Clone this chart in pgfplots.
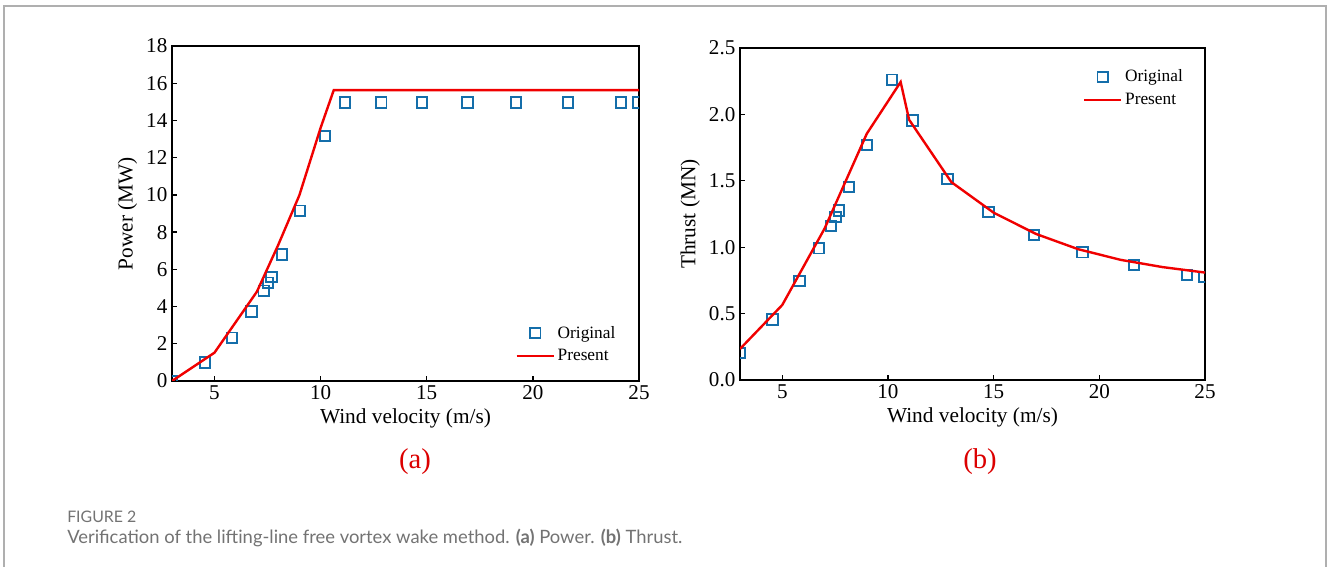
\documentclass[border=0pt]{standalone}
\usepackage{pgfplots}
\pgfplotsset{compat=1.18}
\usepackage{fontspec}
\setmainfont{Liberation Serif}
\newfontfamily\capfont{Lato}
\definecolor{mblue}{RGB}{20,110,170}
\definecolor{pred}{RGB}{240,0,0}
\definecolor{capred}{RGB}{220,0,0}
\definecolor{capgray}{RGB}{115,115,115}
\definecolor{framegray}{RGB}{175,175,175}

\pgfplotsset{
  myaxis/.style={
    scale only axis,
    xmin=3, xmax=25,
    xtick={5,10,15,20,25},
    tick align=inside,
    xtick pos=bottom, ytick pos=left,
    major tick length=4bp,
    clip marker paths=true,
    axis line style={line width=1.1bp},
    every tick/.style={black, line width=1bp},
    tick label style={font=\fontsize{15.8bp}{18bp}\selectfont},
    label style={font=\fontsize{16bp}{19bp}\selectfont},
    /pgf/number format/assume math mode=true,
    legend style={draw=none, fill=none, inner sep=0pt,
      font=\fontsize{13bp}{15bp}\selectfont,
      nodes={inner sep=2bp},
      row sep=3bp},
    legend cell align=left,
    legend image code/.code={\draw[mark repeat=2,mark phase=2,##1] plot coordinates {(0bp,0bp)(13.9bp,0bp)(27.8bp,0bp)};},
  },
  origstyle/.style={only marks, mark=square, mark size=3.9bp, color=mblue, mark options={line width=1.4bp, fill=none}},
  presstyle/.style={no marks, color=pred, line width=1.8bp},
}

\begin{document}
\begin{tikzpicture}
\useasboundingbox (0,0) rectangle (996bp,425.25bp);
\fill[white] (0,0) rectangle (996bp,425.25bp);
\draw[framegray, line width=1.5bp] (3.2bp,0) -- (3.2bp,420.5bp) -- (994.8bp,420.5bp) -- (994.8bp,0);

% (a) Power
\begin{axis}[myaxis,
  at={(129bp,139.5bp)}, anchor=south west,
  width=350.25bp, height=251.25bp,
  ymin=0, ymax=18, ytick={0,2,...,18},
  xlabel={Wind velocity (m/s)}, ylabel={Power (MW)},
  legend style={at={(0.735,0.173)}, anchor=north west},
]
\addplot[origstyle] coordinates {
(3,0) (4.56,1.0) (5.82,2.33) (6.74,3.73) (7.32,4.85) (7.53,5.28) (7.69,5.6)
(8.19,6.8) (9.03,9.15) (10.2,13.17) (11.16,14.97) (12.86,14.97) (14.77,14.97)
(16.92,14.97) (19.2,14.97) (21.66,14.97) (24.16,14.97) (24.95,14.97)};
\addlegendentry{Original}
\addplot[presstyle] coordinates {
(3,0) (5,1.52) (7,4.8) (8,7.3) (9,9.98) (10,13.6) (10.62,15.63) (25,15.63)};
\addlegendentry{Present}
\end{axis}

% (b) Thrust
\begin{axis}[myaxis,
  at={(555bp,140.25bp)}, anchor=south west,
  width=348.75bp, height=249bp,
  ymin=0, ymax=2.5, ytick={0,0.5,...,2.5},
  yticklabel style={/pgf/number format/.cd, fixed, fixed zerofill, precision=1},
  xlabel={Wind velocity (m/s)}, ylabel={Thrust (MN)},
  legend style={at={(0.737,0.943)}, anchor=north west},
]
\addplot[origstyle] coordinates {
(3,0.204) (4.54,0.455) (5.81,0.744) (6.74,0.992) (7.3,1.158) (7.52,1.229)
(7.69,1.276) (8.16,1.452) (9.01,1.769) (10.19,2.261) (11.16,1.955)
(12.82,1.515) (14.76,1.266) (16.91,1.093) (19.21,0.962) (21.65,0.867)
(24.14,0.791) (24.95,0.774)};
\addlegendentry{Original}
\addplot[presstyle] coordinates {
(3,0.234) (5,0.565) (7,1.14) (9,1.855) (10.6,2.244) (11,1.96) (13,1.49)
(15,1.26) (17,1.10) (19,0.985) (21,0.905) (23,0.85) (25,0.809)};
\addlegendentry{Present}
\end{axis}

\node[text=capred, font=\fontsize{21.5bp}{24bp}\selectfont, anchor=center] at (311.25bp,78.75bp) {(a)};
\node[text=capred, font=\fontsize{21.5bp}{24bp}\selectfont, anchor=center] at (735bp,78.75bp) {(b)};

\node[text=capgray, font=\capfont\fontsize{11.9bp}{13bp}\selectfont, anchor=base west, inner sep=0pt] at (50.25bp,33.75bp) {FIGURE 2};
\node[text=capgray, font=\capfont\fontsize{13.8bp}{15bp}\selectfont, anchor=base west, inner sep=0pt] at (50.25bp,18bp) {Verification of the lifting-line free vortex wake method. \textbf{(a)} Power. \textbf{(b)} Thrust.};
\end{tikzpicture}
\end{document}
